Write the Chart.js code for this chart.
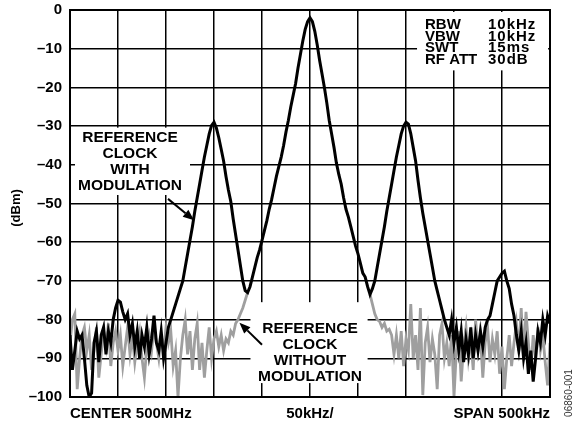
<!DOCTYPE html>
<html>
<head>
<meta charset="utf-8">
<script src="https://cdn.jsdelivr.net/npm/chart.js@4.4.1/dist/chart.umd.min.js"></script>
<style>
  html, body { margin: 0; padding: 0; background: #fff; }
  canvas { display: block; }
</style>
</head>
<body>
<canvas id="spectrum" width="576" height="424"></canvas>
<script>
// sweep: 500kHz span around 500MHz, one trace sample every 2.5kHz
const sweepStart = -250;
const binKHz = 2.5;

// trace with modulation (dBm)
const withMod = [
  -84, -93, -88, -83, -85, -84, -90, -97, -100, -99,
  -86, -83, -91, -84, -82, -89, -83, -86, -80, -77,
  -75, -75.5, -78, -80, -78.5, -84, -81, -87, -83, -90,
  -84, -87, -82, -89, -85, -79, -86, -88, -83, -90,
  -86,
  -82, -80, -78, -76, -74, -72, -70, -66.5, -63, -59.5,
  -56, -52, -48.5, -45, -41.5, -38, -35, -32, -29.8, -29,
  -30.5, -33, -36, -39, -43, -46.5, -49.5, -54, -58, -62,
  -66, -70, -72.5, -73,
  -71.5, -69, -66.5, -64, -62, -59.5, -57, -54.5, -51.5, -49,
  -46, -43, -40.5, -38, -35, -31.5, -28.5, -25, -22, -19,
  -15, -11.5, -8, -5, -3, -2, -3, -5.5, -9, -13,
  -16.5, -20, -24, -28.5, -32, -35.5, -39.5, -42.5, -45, -48.5,
  -51.5, -53.5, -56, -58.5, -61, -63, -65.5, -68, -69, -71.5,
  -73.5,
  -72, -70, -66.5, -63, -59.5, -56, -52, -48.5, -45, -41.5,
  -38, -35, -32, -30, -29, -29.5, -32, -35.5, -39, -44,
  -48.5, -52.5, -56, -59.5, -63, -66.5, -70, -72.5, -75, -77.5,
  -80, -82,
  -84, -80, -86, -82, -88, -83, -91, -85, -89, -82,
  -90, -84, -88, -83, -87, -82, -80,
  -79, -76, -73, -70, -69, -68, -67.5, -70, -72, -76, -79,
  -84, -88, -83, -90, -86, -94, -88, -96, -90, -83,
  -86, -80, -84, -79, -81
];

// trace without modulation: noise left of the carrier (bins 0..74)
const noModLeft = [
  -86, -80, -78.5, -98, -90, -84, -82, -88, -84, -93,
  -88, -82, -95, -89, -83, -87, -81, -92, -86, -83,
  -88, -84, -92, -87, -82, -89, -84, -91, -86, -83,
  -90, -95, -87, -84, -88, -82, -86, -90, -84, -88,
  -82, -86, -83, -92, -88, -100, -90, -84, -80, -89,
  -83, -93, -85, -81, -93, -86, -95, -88, -82, -90,
  -85, -83, -87, -84, -88, -85, -86, -83, -84, -81,
  -80, -78.5, -77, -75, -73
];
// ...and right of it (bins 125..200); the carrier itself lies under the black trace
const noModRightFirstBin = 125;
const noModRight = [
  -73.5, -76, -78.5, -80, -80.5, -82, -81, -83, -82.5, -84,
  -89, -84, -90, -83, -92, -85, -88, -76, -90, -84,
  -93, -77, -99.5, -86, -82, -91, -85, -89, -98, -84,
  -81, -90, -86, -92, -84, -100, -88, -83, -96, -87,
  -82, -90, -85, -93, -80, -88, -84, -95, -86, -82,
  -91, -85, -89, -83, -94, -87, -98, -90, -84, -92,
  -86, -81, -88, -77, -90, -78, -86, -93, -84, -90,
  -82, -88, -84, -91, -97, -86
];

const xTickText = { '-250': 'CENTER 500MHz', '0': '50kHz/', '250': 'SPAN 500kHz' };
const settings = [['RBW', '10kHz'], ['VBW', '10kHz'], ['SWT', '15ms'], ['RF ATT', '30dB']];
const noteWith = ['REFERENCE', 'CLOCK', 'WITH', 'MODULATION'];
const noteWithout = ['REFERENCE', 'CLOCK', 'WITHOUT', 'MODULATION'];

const fam = '"Liberation Sans", Arial, Helvetica, sans-serif';
const binX = i => sweepStart + i * binKHz;

const blackPts = withMod.map((v, i) => ({ x: binX(i), y: v }));
const grayPts = noModLeft.map((v, i) => ({ x: binX(i), y: v }))
  .concat([{ x: 0, y: null }])
  .concat(noModRight.map((v, i) => ({ x: binX(noModRightFirstBin + i), y: v })));

function arrow(ctx, x0, y0, x1, y1) {
  const a = Math.atan2(y1 - y0, x1 - x0);
  const hl = 11, hw = 4.5;
  const bx = x1 - hl * Math.cos(a), by = y1 - hl * Math.sin(a);
  ctx.beginPath();
  ctx.moveTo(x0, y0);
  ctx.lineTo(bx, by);
  ctx.stroke();
  ctx.beginPath();
  ctx.moveTo(x1, y1);
  ctx.lineTo(bx + hw * Math.sin(a), by - hw * Math.cos(a));
  ctx.lineTo(bx - hw * Math.sin(a), by + hw * Math.cos(a));
  ctx.closePath();
  ctx.fill();
}

const notes = {
  id: 'notes',
  beforeDatasetsDraw(chart) {
    const { ctx, scales: { x, y } } = chart;
    const box = (k0, k1, d0, d1) => {
      const l = x.getPixelForValue(k0), r = x.getPixelForValue(k1);
      const t = y.getPixelForValue(d0), b = y.getPixelForValue(d1);
      ctx.fillRect(l, t, r - l, b - t);
    };
    ctx.save();
    ctx.fillStyle = '#fff';
    box(111.5, 248, -0.5, -15.6);
    box(-244.8, -125, -30.4, -47.8);
    box(-62, 60, -75.5, -96.4);
    ctx.restore();
  },
  afterDatasetsDraw(chart) {
    const { ctx, chartArea: ca, scales: { x, y } } = chart;
    ctx.save();
    ctx.strokeStyle = '#000';
    ctx.lineWidth = 2;
    ctx.strokeRect(ca.left, ca.top, ca.right - ca.left, ca.bottom - ca.top);

    ctx.fillStyle = '#000';
    ctx.textBaseline = 'middle';

    // analyser settings, top right
    ctx.font = 'bold 15px ' + fam;
    ctx.textAlign = 'left';
    const rows = [-3.9, -7.0, -9.9, -13.0];
    settings.forEach((s, i) => {
      ctx.letterSpacing = '0px';
      ctx.fillText(s[0], x.getPixelForValue(119.8), y.getPixelForValue(rows[i]));
      ctx.letterSpacing = '1px';
      ctx.fillText(s[1], x.getPixelForValue(185.4), y.getPixelForValue(rows[i]));
    });
    ctx.letterSpacing = '0px';

    ctx.font = 'bold 15.5px ' + fam;
    ctx.textAlign = 'center';
    const rowsWith = [-33, -37.1, -41.3, -45.5];
    noteWith.forEach((t, i) => ctx.fillText(t, x.getPixelForValue(-187.5), y.getPixelForValue(rowsWith[i])));
    const rowsWithout = [-82.3, -86.5, -90.6, -94.8];
    noteWithout.forEach((t, i) => ctx.fillText(t, x.getPixelForValue(0), y.getPixelForValue(rowsWithout[i])));

    ctx.lineWidth = 2;
    arrow(ctx, x.getPixelForValue(-147.9), y.getPixelForValue(-48.8),
               x.getPixelForValue(-120.8), y.getPixelForValue(-54.3));
    arrow(ctx, x.getPixelForValue(-50), y.getPixelForValue(-86.5),
               x.getPixelForValue(-73.5), y.getPixelForValue(-80.8));

    // axis title
    ctx.save();
    ctx.translate(16, 208);
    ctx.rotate(-Math.PI / 2);
    ctx.font = 'bold 13px ' + fam;
    ctx.fillText('(dBm)', 0, 0);
    ctx.restore();

    // figure number
    ctx.save();
    ctx.translate(569, 393);
    ctx.rotate(-Math.PI / 2);
    ctx.font = '10px ' + fam;
    ctx.fillStyle = '#333';
    ctx.fillText('06860-001', 0, 0);
    ctx.restore();

    ctx.restore();
  }
};

new Chart(document.getElementById('spectrum'), {
  type: 'line',
  data: {
    datasets: [
      {
        label: 'with modulation',
        data: blackPts,
        borderColor: '#000',
        borderWidth: 3,
        pointRadius: 0,
        tension: 0
      },
      {
        label: 'without modulation',
        data: grayPts,
        borderColor: '#9f9f9f',
        borderWidth: 2.8,
        pointRadius: 0,
        tension: 0,
        spanGaps: false
      }
    ]
  },
  options: {
    responsive: false,
    animation: false,
    layout: { padding: { left: 0, right: 26, top: 10, bottom: 0 } },
    plugins: {
      legend: { display: false },
      tooltip: { enabled: false }
    },
    scales: {
      x: {
        type: 'linear',
        min: -250,
        max: 250,
        afterFit(s) { s.height = 27; },
        border: { display: false },
        grid: { color: '#000', lineWidth: 1.5, drawTicks: false },
        ticks: {
          stepSize: 50,
          autoSkip: false,
          maxRotation: 0,
          align: 'inner',
          padding: 8,
          color: '#000',
          font: { family: fam, size: 15, weight: 'bold' },
          callback: v => xTickText[String(v)] || ''
        }
      },
      y: {
        min: -100,
        max: 0,
        afterFit(s) {
          s.width = 70;
          s.paddingTop = 0;
          s.paddingBottom = 0;
        },
        border: { display: false },
        grid: { color: '#000', lineWidth: 1.5, drawTicks: false },
        ticks: {
          stepSize: 10,
          padding: 8,
          color: '#000',
          font: { family: fam, size: 15, weight: 'bold' },
          callback: v => (v === 0 ? '0' : '\u2013' + Math.abs(v))
        }
      }
    }
  },
  plugins: [notes]
});
</script>
</body>
</html>
